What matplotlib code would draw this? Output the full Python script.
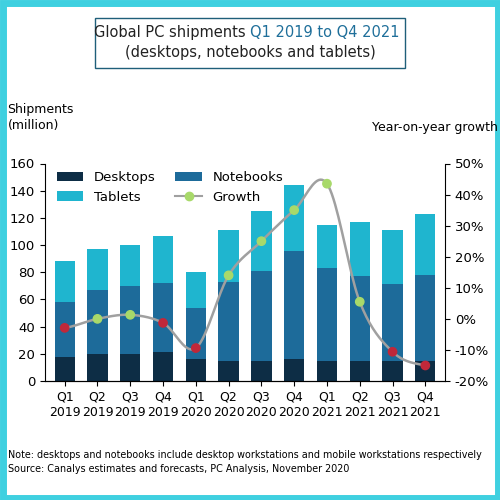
import matplotlib
matplotlib.use("Agg")
import matplotlib.pyplot as plt
import numpy as np
from matplotlib.patches import Rectangle

quarters = ["Q1\n2019","Q2\n2019","Q3\n2019","Q4\n2019","Q1\n2020","Q2\n2020","Q3\n2020","Q4\n2020","Q1\n2021","Q2\n2021","Q3\n2021","Q4\n2021"]
desktops = [18,20,20,21,16,15,15,16,15,15,15,15]
notebooks = [40,47,50,51,38,58,66,80,68,62,56,63]
tablets = [30,30,30,35,26,38,44,48,32,40,40,45]
growth = [-2.9,0.0,1.3,-1.3,-9.4,14,25,35,43.5,5.5,-10.6,-15]

fig = plt.figure(figsize=(5,5), dpi=100)
fig.patches.append(Rectangle((0.005,0.005),0.99,0.99,transform=fig.transFigure,fill=False,ec="#3fd0e0",lw=5))
fig.patches.append(Rectangle((0.19,0.865),0.62,0.1,transform=fig.transFigure,fill=False,ec="#1f5f7a",lw=1))
fig.text(0.5,0.935,"Global PC shipments ",ha="right",va="center",fontsize=10.5,color="#222")
fig.text(0.5,0.935,"Q1 2019 to Q4 2021",ha="left",va="center",fontsize=10.5,color="#1f6f9a")
fig.text(0.5,0.895,"(desktops, notebooks and tablets)",ha="center",va="center",fontsize=10.5,color="#222")
fig.text(0.015,0.765,"Shipments\n(million)",ha="left",va="center",fontsize=9)
fig.text(0.995,0.745,"Year-on-year growth",ha="right",va="center",fontsize=9)
fig.text(0.015,0.085,"Note: desktops and notebooks include desktop workstations and mobile workstations respectively",fontsize=6.9)
fig.text(0.015,0.055,"Source: Canalys estimates and forecasts, PC Analysis, November 2020",fontsize=6.9)

ax = fig.add_axes([0.09,0.238,0.8,0.435])
x = np.arange(len(quarters))
w = 0.62
d = np.array(desktops); n = np.array(notebooks); t = np.array(tablets)
ax.bar(x,d,w,color="#0d2d45",label="Desktops")
ax.bar(x,n,w,bottom=d,color="#1d6b9a",label="Notebooks")
ax.bar(x,t,w,bottom=d+n,color="#1fb5cf",label="Tablets")
ax.set_ylim(0,160); ax.set_yticks(range(0,161,20))
ax.set_xlim(-0.6,11.6)
ax.set_xticks(x); ax.set_xticklabels(quarters,fontsize=9)
ax.tick_params(axis="y",labelsize=9.5)
for s in ["top","right"]: ax.spines[s].set_visible(False)

ax2 = ax.twinx()
ax2.set_ylim(-20,50); ax2.set_yticks(range(-20,51,10))
ax2.set_yticklabels([f"{v}%" for v in range(-20,51,10)],fontsize=9.5)
for s in ["top","left"]: ax2.spines[s].set_visible(False)
g = np.array(growth,float)
px = np.concatenate([[x[0]-1],x,[x[-1]+1]]); py = np.concatenate([[g[0]],g,[g[-1]]])
sx=[];sy=[]
for i in range(1,len(px)-2):
    for tt in np.linspace(0,1,20,endpoint=False):
        for arr,out in ((px,sx),(py,sy)):
            p0,p1,p2,p3 = arr[i-1],arr[i],arr[i+1],arr[i+2]
            out.append(0.5*((2*p1)+(-p0+p2)*tt+(2*p0-5*p1+4*p2-p3)*tt**2+(-p0+3*p1-3*p2+p3)*tt**3))
sx.append(x[-1]); sy.append(g[-1])
ax2.plot(sx,sy,color="#a0a0a0",lw=1.8,zorder=3)
cols = ["#c0283a" if v<-1 else "#a8d96a" for v in g]
ax2.scatter(x,g,c=cols,s=36,zorder=4)
ax2.plot([],[],color="#a0a0a0",marker="o",mfc="#a8d96a",mec="#a8d96a",label="Growth")
h1,l1 = ax.get_legend_handles_labels(); h2,l2 = ax2.get_legend_handles_labels()
ax.legend([h1[0],h1[2],h1[1],h2[0]],[l1[0],l1[2],l1[1],l2[0]],ncol=2,loc="upper left",
          bbox_to_anchor=(0.0,1.02),frameon=False,fontsize=9.5,handlelength=2,columnspacing=1.5)
fig.savefig("out.png")
